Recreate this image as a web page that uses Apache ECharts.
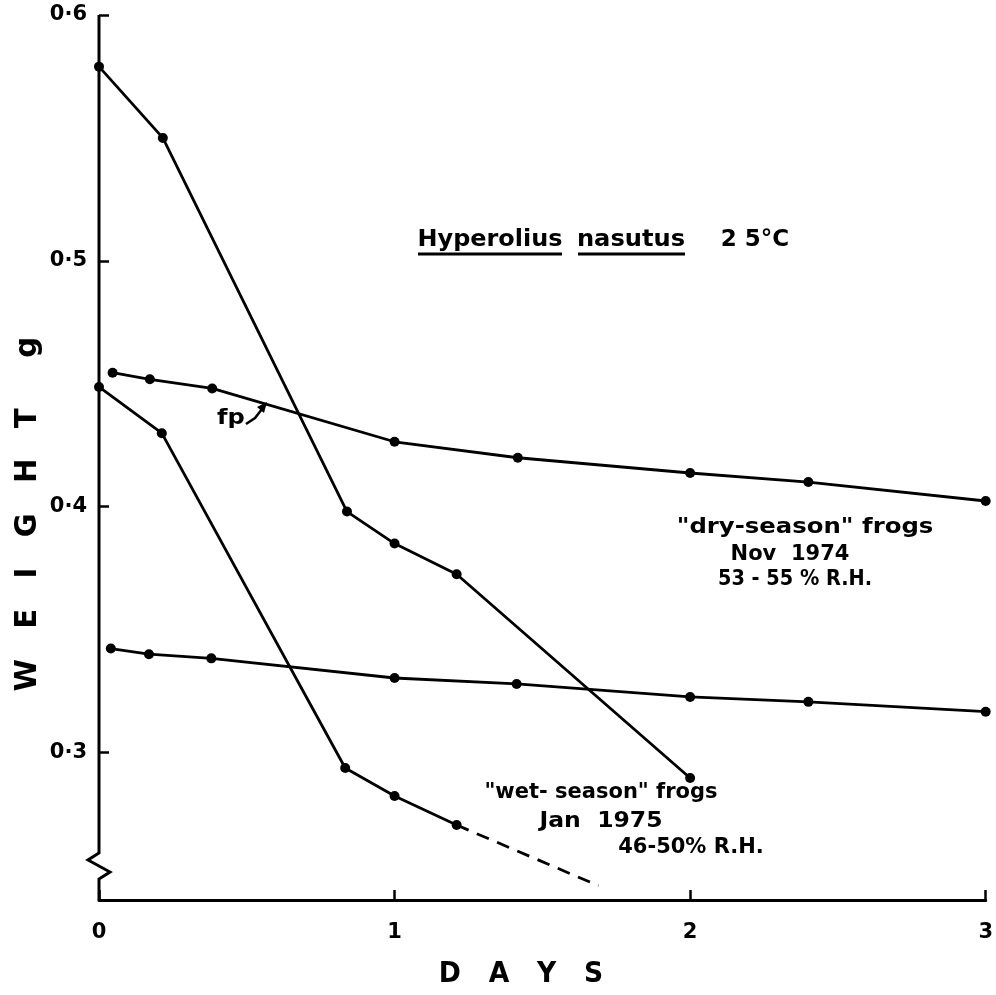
<!DOCTYPE html>
<html>
<head>
<meta charset="utf-8">
<script src="https://cdn.jsdelivr.net/npm/echarts@6/dist/echarts.min.js"></script>
<style>
  html, body { margin: 0; background: #fff; }
  #chart { width: 996px; height: 995px; }
</style>
</head>
<body>
<div id="chart"></div>
<script>
  const FONT = 'DejaVu Sans';

  // dry-season frogs, Nov 1974
  const dryDays = [0, 0.216, 0.839, 1.0, 1.21, 2.0];
  const dryWeight = [0.579, 0.550, 0.398, 0.385, 0.3725, 0.2896];
  const fpDays = [0.046, 0.172, 0.383, 1.0, 1.417, 2.0, 2.4, 3.0];
  const fpWeight = [0.4545, 0.4518, 0.4481, 0.4264, 0.4199, 0.4137, 0.41, 0.4023];

  // wet-season frogs, Jan 1975
  const wetDays = [0, 0.2125, 0.833, 1.0, 1.21];
  const wetWeight = [0.4487, 0.4299, 0.2937, 0.2823, 0.2705];
  const wetDashDays = [1.21, 1.69];
  const wetDashWeight = [0.2705, 0.2458];
  const wetFlatDays = [0.04, 0.169, 0.38, 1.0, 1.413, 2.0, 2.4, 3.0];
  const wetFlatWeight = [0.3423, 0.34, 0.3383, 0.3303, 0.3279, 0.3226, 0.3206, 0.3166];

  const xTicks = [0, 1, 2, 3];
  const yTicks = [0.3, 0.4, 0.5, 0.6];
  const yTickLabels = ['0·3', '0·4', '0·5', '0·6'];

  const zip = (xs, ys) => xs.map((x, i) => [x, ys[i]]);

  const lineSeries = (data, dashed) => ({
    type: 'line',
    data: data,
    symbol: dashed ? 'none' : 'circle',
    symbolSize: 10,
    showSymbol: !dashed,
    itemStyle: { color: '#000' },
    lineStyle: { color: '#000', width: 2.8, type: dashed ? [13, 9] : 'solid' },
    silent: true,
    z: 3,
  });

  const myChart = echarts.init(document.getElementById('chart'));

  const getOption = () => ({
    animation: false,
    backgroundColor: '#fff',
    grid: { left: 99, right: 8, top: 15, bottom: 95 },
    xAxis: {
      type: 'value',
      min: 0,
      max: 3,
      interval: 1,
      axisLine: { lineStyle: { color: '#000', width: 3 } },
      axisTick: { inside: true, length: 10, lineStyle: { color: '#000', width: 2.5 } },
      axisLabel: {
        color: '#000',
        fontFamily: FONT,
        fontWeight: 'bold',
        fontSize: 21,
        margin: 22,
        formatter: (v) => (xTicks.indexOf(v) >= 0 ? String(v) : ''),
      },
      splitLine: { show: false },
    },
    yAxis: {
      type: 'value',
      min: 0.24,
      max: 0.6,
      axisLine: { show: false },
      axisTick: {
        inside: true,
        length: 10,
        customValues: yTicks,
        lineStyle: { color: '#000', width: 2.5 },
      },
      axisLabel: {
        customValues: yTicks,
        color: '#000',
        fontFamily: FONT,
        fontWeight: 'bold',
        fontSize: 21,
        margin: 12,
        formatter: (v) => {
          const i = yTicks.findIndex((t) => Math.abs(t - v) < 1e-6);
          return i >= 0 ? yTickLabels[i] : '';
        },
      },
      splitLine: { show: false },
    },
    series: [
      lineSeries(zip(dryDays, dryWeight)),
      lineSeries(zip(fpDays, fpWeight)),
      lineSeries(zip(wetDays, wetWeight)),
      lineSeries(zip(wetDashDays, wetDashWeight), true),
      lineSeries(zip(wetFlatDays, wetFlatWeight)),
    ],
  });

  myChart.setOption(getOption());

  // y axis with the break symbol near the bottom
  const axTop = myChart.convertToPixel({ gridIndex: 0 }, [0, 0.6]);
  const axBottom = myChart.convertToPixel({ gridIndex: 0 }, [0, 0.24]);
  const ax = axTop[0];

  const txt = (text, x, y, size, scaleX, rotation) => ({
    type: 'text',
    x: x,
    y: y,
    scaleX: scaleX || 1,
    rotation: rotation || 0,
    silent: true,
    style: {
      text: text,
      fill: '#000',
      font: 'bold ' + size + 'px "' + FONT + '"',
      align: 'center',
      verticalAlign: 'middle',
    },
  });

  myChart.setOption({
    graphic: [
      {
        type: 'polyline',
        silent: true,
        shape: {
          points: [
            [ax, axTop[1]],
            [ax, axBottom[1] - 47],
            [ax - 11, axBottom[1] - 40],
            [ax + 11, axBottom[1] - 28],
            [ax, axBottom[1] - 21],
            [ax, axBottom[1]],
          ],
        },
        style: { stroke: '#000', lineWidth: 3, fill: null },
        z: 10,
      },
      // axis names
      txt('W   E   I   G   H   T     g', 28, 514, 30, 0.97, Math.PI / 2),
      txt('D   A   Y   S', 521, 975, 28, 0.95),
      // title
      txt('Hyperolius', 490, 240, 23, 1.04),
      txt('nasutus', 631, 240, 23, 1.05),
      txt('2 5°C', 755, 240, 23),
      { type: 'line', silent: true, shape: { x1: 418, y1: 254, x2: 562, y2: 254 }, style: { stroke: '#000', lineWidth: 3 } },
      { type: 'line', silent: true, shape: { x1: 578, y1: 254, x2: 685, y2: 254 }, style: { stroke: '#000', lineWidth: 3 } },
      // dry-season annotation
      txt('"dry-season" frogs', 805, 528, 21, 1.16),
      txt('Nov  1974', 790, 555, 21),
      txt('53 - 55 % R.H.', 795, 580, 21, 0.92),
      // wet-season annotation
      txt('"wet- season" frogs', 601, 793, 21),
      txt('Jan  1975', 601, 822, 21, 1.12),
      txt('46-50% R.H.', 691, 848, 21),
      // fp label and arrow
      txt('fp', 231, 419, 21, 1.15),
      {
        type: 'polyline',
        silent: true,
        shape: { points: [[246, 424], [255, 418], [262, 409]] },
        style: { stroke: '#000', lineWidth: 2.5, fill: null },
      },
      {
        type: 'polygon',
        silent: true,
        shape: { points: [[267, 402], [257, 407], [264, 413]] },
        style: { fill: '#000' },
      },
    ],
  });

  window.addEventListener('resize', () => myChart.resize());
</script>
</body>
</html>
